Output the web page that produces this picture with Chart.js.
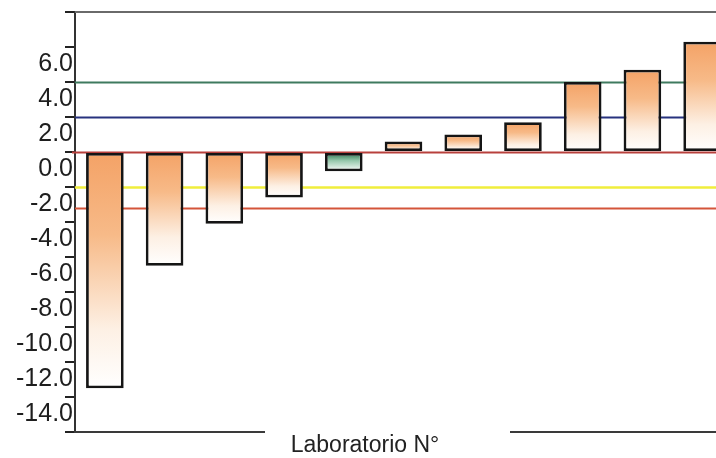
<!DOCTYPE html>
<html>
<head>
<meta charset="utf-8">
<script src="https://cdn.jsdelivr.net/npm/chart.js@4/dist/chart.umd.min.js"></script>
<style>
  html, body { margin: 0; padding: 0; background: #fff; overflow: hidden; width: 716px; height: 458px; }
  #wrap { position: relative; width: 740px; height: 458px; }
</style>
</head>
<body>
<div id="wrap"><canvas id="grafico" width="740" height="458"></canvas></div>
<script>
// Laboratorios participantes y su desviación respecto del valor asignado
const laboratorios = ['1', '2', '3', '4', '5', '6', '7', '8', '9', '10', '11'];
const desvios = [-13.5, -6.5, -4.1, -2.6, -1.1, 0.6, 1.0, 1.7, 4.0, 4.7, 6.3];

// Marcas del eje vertical
const marcasY = [8, 6, 4, 2, 0, -2, -4, -6, -8, -10, -12, -14, -16];

// Líneas de referencia horizontales
const limites = [4.0, 2.0, 0.0, -2.0, -3.2];
const coloresLimites = ['#3f7a5f', '#27327e', '#b8403c', '#f0ee3c', '#d4553a'];

// Laboratorio resaltado en verde
const resaltado = 4;

const fuente = "'Liberation Sans', Arial, sans-serif";

function rellenoBarra(ctx) {
  const chart = ctx.chart;
  const { chartArea, scales } = chart;
  if (!chartArea || !scales.y) return '#f5a868';
  const v = ctx.raw;
  const p0 = scales.y.getPixelForValue(0);
  const p1 = scales.y.getPixelForValue(v);
  const top = Math.min(p0, p1), bot = Math.max(p0, p1);
  const g = chart.ctx.createLinearGradient(0, top, 0, bot + 0.01);
  if (ctx.dataIndex === resaltado) {
    g.addColorStop(0, 'rgb(28,105,66)');
    g.addColorStop(0.45, 'rgb(150,200,172)');
    g.addColorStop(1, '#ffffff');
  } else {
    g.addColorStop(0, 'rgb(244,162,102)');
    g.addColorStop(0.35, 'rgb(247,186,136)');
    g.addColorStop(0.75, 'rgb(253,240,228)');
    g.addColorStop(1, '#ffffff');
  }
  return g;
}

// Líneas de referencia, dibujadas detrás de las barras
const lineasReferencia = {
  id: 'lineasReferencia',
  beforeDatasetsDraw(chart) {
    const { ctx, chartArea, scales } = chart;
    ctx.save();
    limites.forEach((val, i) => {
      const y = Math.round(scales.y.getPixelForValue(val)) + 0.5;
      ctx.beginPath();
      ctx.strokeStyle = coloresLimites[i];
      ctx.lineWidth = i === 3 ? 2.5 : 2;
      ctx.moveTo(val === 0 ? chartArea.left - 3 : chartArea.left, y);
      ctx.lineTo(chartArea.right + 10, y);
      ctx.stroke();
    });
    ctx.restore();
  }
};

// Marco superior, eje inferior interrumpido y título del eje
const marco = {
  id: 'marco',
  afterDraw(chart) {
    const { ctx, chartArea } = chart;
    ctx.save();
    ctx.strokeStyle = '#6a6a6a';
    ctx.lineWidth = 2;
    ctx.beginPath();
    ctx.moveTo(chartArea.left, chartArea.top);
    ctx.lineTo(chart.width, chartArea.top);
    ctx.stroke();

    ctx.strokeStyle = '#3a3a3a';
    ctx.beginPath();
    ctx.moveTo(chartArea.left - 1, chartArea.bottom);
    ctx.lineTo(265, chartArea.bottom);
    ctx.moveTo(510, chartArea.bottom);
    ctx.lineTo(chart.width, chartArea.bottom);
    ctx.stroke();

    ctx.fillStyle = '#222';
    ctx.font = '23px ' + fuente;
    ctx.textAlign = 'center';
    ctx.textBaseline = 'alphabetic';
    ctx.fillText('Laboratorio N°', 365, 452);
    ctx.restore();
  }
};

new Chart(document.getElementById('grafico'), {
  type: 'bar',
  data: {
    labels: laboratorios,
    datasets: [{
      data: desvios,
      backgroundColor: rellenoBarra,
      borderColor: '#151515',
      borderWidth: 2.8,
      borderSkipped: false,
      categoryPercentage: 1.0,
      barPercentage: 0.63
    }]
  },
  options: {
    responsive: false,
    animation: false,
    devicePixelRatio: 1,
    layout: { padding: { top: 12, bottom: 26, left: 0, right: 8 } },
    plugins: {
      legend: { display: false },
      tooltip: { enabled: false }
    },
    scales: {
      x: { display: false },
      y: {
        min: -16,
        max: 8,
        afterBuildTicks(scale) {
          scale.ticks = marcasY.map(v => ({ value: v }));
        },
        afterFit(scale) {
          scale.width = 75;
          scale.paddingTop = 0;
          scale.paddingBottom = 0;
        },
        ticks: {
          autoSkip: false,
          labelOffset: 17,
          padding: -8,
          color: '#1e1e1e',
          font: { family: fuente, size: 25 },
          callback: (v) => (v === marcasY[0] || v === marcasY[marcasY.length - 1]) ? '' : Number(v).toFixed(1)
        },
        grid: {
          drawOnChartArea: false,
          drawTicks: true,
          tickLength: 10,
          color: '#222',
          lineWidth: 2
        },
        border: { display: true, color: '#333', width: 2 }
      }
    }
  },
  plugins: [lineasReferencia, marco]
});
</script>
</body>
</html>
